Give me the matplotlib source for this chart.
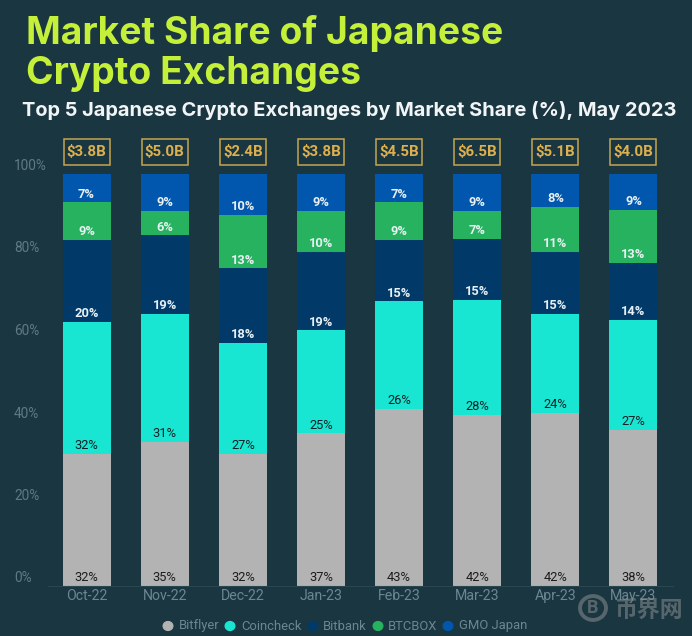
import matplotlib
matplotlib.use("Agg")
import matplotlib.pyplot as plt
import numpy as np
from matplotlib.patches import Rectangle, Circle

months = ["Oct-22", "Nov-22", "Dec-22", "Jan-23", "Feb-23", "Mar-23", "Apr-23", "May-23"]
volumes = ["$3.8B", "$5.0B", "$2.4B", "$3.8B", "$4.5B", "$6.5B", "$5.1B", "$4.0B"]

# heights, labels are the printed rounded numbers
bitflyer = [32.0, 34.9, 32.0, 37.0, 43.0, 41.5, 42.0, 37.8]
coincheck = [32.0, 31.0, 26.9, 25.0, 26.0, 27.8, 24.0, 26.7]
bitbank = [20.0, 19.1, 18.1, 19.0, 15.0, 14.8, 15.0, 13.8]
btcbox = [9.0, 6.0, 13.0, 10.0, 9.0, 6.9, 11.0, 12.9]
gmo = [7.0, 9.0, 10.0, 9.0, 7.0, 9.0, 8.0, 8.8]

bitflyer_lbl = [32, 35, 32, 37, 43, 42, 42, 38]
coincheck_lbl = [32, 31, 27, 25, 26, 28, 24, 27]
bitbank_lbl = [20, 19, 18, 19, 15, 15, 15, 14]
btcbox_lbl = [9, 6, 13, 10, 9, 7, 11, 13]
gmo_lbl = [7, 9, 10, 9, 7, 9, 8, 9]

names = ["Bitflyer", "Coincheck", "Bitbank", "BTCBOX", "GMO Japan"]
colors = ["#b3b3b3", "#19e6d2", "#013a68", "#27b25f", "#0157ad"]

BG = "#1a3641"
W, H = 692, 636

plt.rcParams["font.family"] = ["Roboto", "DejaVu Sans"]
fig = plt.figure(figsize=(W / 100, H / 100), dpi=100, facecolor=BG)


def fx(px):
    return px / W


def fy(py):
    return 1 - py / H


ax = fig.add_axes([fx(47.5), fy(586), 625 / W, (586 - 173.5) / H])
ax.set_facecolor(BG)
x = np.arange(len(months))
series = [bitflyer, coincheck, bitbank, btcbox, gmo]
labels = [bitflyer_lbl, coincheck_lbl, bitbank_lbl, btcbox_lbl, gmo_lbl]
bottom = np.zeros(len(months))
for i, vals in enumerate(series):
    ax.bar(x, vals, 0.615, bottom=bottom, color=colors[i], zorder=2)
    for k, v in enumerate(vals):
        txt_color = "#1c1c1c" if i == 0 else ("#101f24" if i == 1 else "#e8f0f4")
        ax.annotate(f"{labels[i][k]}%", (x[k], bottom[k]), xytext=(0, 1.2),
                    textcoords="offset points", ha="center", va="bottom",
                    fontsize=9.3, fontweight="semibold" if i > 1 else "normal",
                    color=txt_color, zorder=3)
    bottom += np.array(vals)

ax.set_xlim(-0.5, len(months) - 0.5)
ax.set_ylim(0, 100)
ax.set_xticks(x, months)
ax.set_yticks([])
ax.tick_params(axis="x", length=0, pad=2.5, labelsize=10.2, labelcolor="#6c8791")
for s in ["top", "left", "right"]:
    ax.spines[s].set_visible(False)
ax.spines["bottom"].set_color("#2a4651")
ax.spines["bottom"].set_linewidth(0.8)

for t in [0, 20, 40, 60, 80, 100]:
    py = 586 - t * 4.125
    fig.text(fx(14), fy(py - 7.5), f"{t}%", color="#5f7a84", fontsize=9.8, va="center", ha="left")

# total volume boxes above the bars
for k, v in enumerate(volumes):
    cx = 47.5 + 78.125 * (k + 0.5)
    fig.add_artist(Rectangle((fx(cx - 23), fy(164.5)), 46 / W, 25.5 / H, transform=fig.transFigure,
                             fill=False, ec="#c5a552", lw=1.1))
    fig.text(fx(cx), fy(152), v, color="#dcb04e", fontsize=10.8, fontweight="bold", ha="center", va="center")

fig.text(fx(26), fy(44), "Market Share of Japanese", color="#c4f03a", fontsize=26.8, fontweight="bold",
         family=["Inter", "DejaVu Sans"], va="baseline")
fig.text(fx(26), fy(84), "Crypto Exchanges", color="#c4f03a", fontsize=26.8, fontweight="bold",
         family=["Inter", "DejaVu Sans"], va="baseline")
fig.text(fx(22.5), fy(116), "Top 5 Japanese Crypto Exchanges by Market Share (%), May 2023", color="#f2f5f6",
         fontsize=14.4, fontweight="bold", family=["Inter", "DejaVu Sans"], va="baseline")

# legend drawn by hand, spacing is uneven in the original
leg_dot = [168, 230, 313, 378, 448]
leg_txt = [179, 241, 323, 388, 459]
for i, n in enumerate(names):
    fig.add_artist(Circle((fx(leg_dot[i]), fy(626)), 4.8 / W, transform=fig.transFigure, color=colors[i]))
    fig.text(fx(leg_txt[i]), fy(626), n, color="#6c8791", fontsize=9.4, va="center", ha="left")

# watermark
wm = "#8a8f90"
fig.text(fx(614), fy(610), "币界网", color=wm, alpha=0.55, fontsize=16.5, fontweight="bold",
         family=["Noto Sans CJK SC", "DejaVu Sans"], va="center")
fig.add_artist(Circle((fx(593), fy(608)), 13 / W, transform=fig.transFigure, fill=False, ec=wm, lw=2.8, alpha=0.55))
fig.text(fx(593), fy(608), "B", color=wm, alpha=0.55, fontsize=13, fontweight="bold", ha="center", va="center")

fig.savefig("out.png", dpi=100, facecolor=BG)
